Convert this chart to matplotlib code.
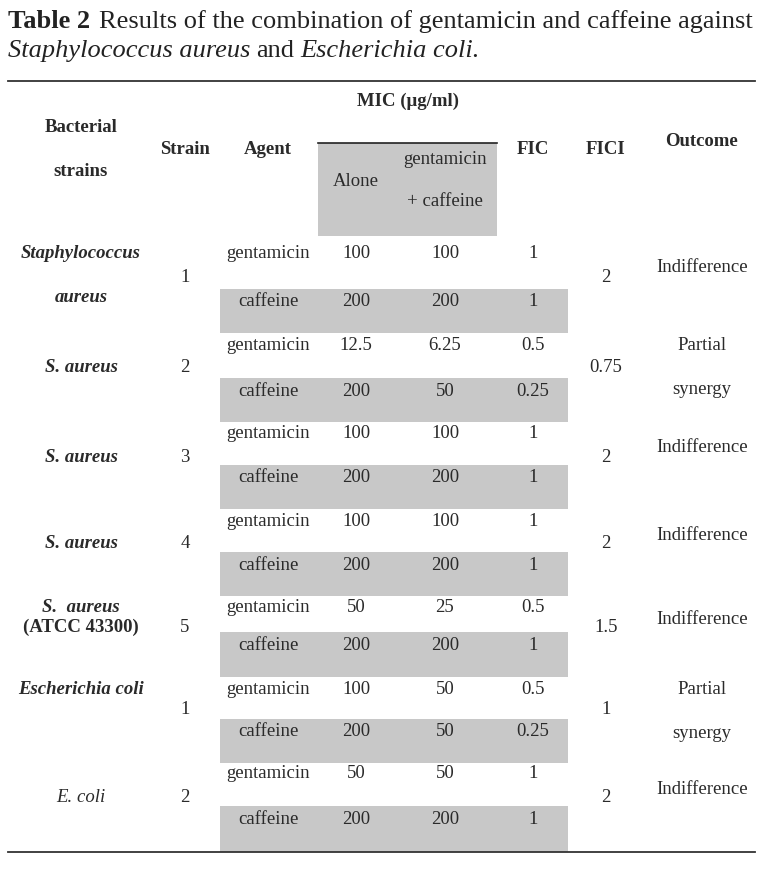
import matplotlib
matplotlib.use("Agg")
import matplotlib.pyplot as plt
from matplotlib.patches import Rectangle

# ---------------- table content ---------------- #
species = [["Staphylococcus", "aureus"], ["S. aureus"], ["S. aureus"], ["S. aureus"],
           ["S.  aureus", "(ATCC 43300)"], ["Escherichia coli"], ["E. coli"]]
strain_no = ["1", "2", "3", "4", "5", "1", "2"]
agents = ["gentamicin", "caffeine"]
mic_alone = [["100", "200"], ["12.5", "200"], ["100", "200"], ["100", "200"],
             ["50", "200"], ["100", "200"], ["50", "200"]]
mic_combo = [["100", "200"], ["6.25", "50"], ["100", "200"], ["100", "200"],
             ["25", "200"], ["50", "50"], ["50", "200"]]
fic = [["1", "1"], ["0.5", "0.25"], ["1", "1"], ["1", "1"],
       ["0.5", "1"], ["0.5", "0.25"], ["1", "1"]]
fici = ["2", "0.75", "2", "2", "1.5", "1", "2"]
outcome = [["Indifference"], ["Partial", "synergy"], ["Indifference"], ["Indifference"],
           ["Indifference"], ["Partial", "synergy"], ["Indifference"]]
caption_1 = [("Table 2", "normal", "bold"),
             ("Results of the combination of gentamicin and caffeine against", "normal", "normal")]
caption_2 = [("Staphylococcus aureus", "italic", "normal"), ("and", "normal", "normal"),
             ("Escherichia coli.", "italic", "normal")]

# ---------------- layout (pixels) ---------------- #
W, H = 783, 883
gent_y = [253, 346, 434, 521, 607, 689, 774]
band_top = [289, 378, 465, 552, 632, 719, 806]
band_bot = [333, 422, 509, 596, 677, 763, 852]
mid_y = [277, 368, 457, 543, 627, 710, 797]
species_y = [[254, 298], [368], [457], [543], [607, 627], [689], [797]]
outcome_y = [[268], [346, 390], [448], [535], [619], [689, 733], [789]]
x_sp, x_strain, x_agent, x_alone, x_combo, x_fic, x_fici, x_out = 81, 185, 268, 356, 445, 533, 606, 702
gray = "#c8c8c8"
txt = "#2a2a2a"
fam = ["Liberation Serif", "DejaVu Serif"]
fs = 13.5
cap_fs = 19

fig = plt.figure(figsize=(W / 100, H / 100), dpi=100)
ax = fig.add_axes([0, 0, 1, 1])
ax.set_xlim(0, W)
ax.set_ylim(H, 0)
ax.axis("off")
renderer = fig.canvas.get_renderer()


def caption_line(pieces, y, gap):
    x = 8
    for s, st, wt in pieces:
        t = ax.text(x, y, s, fontsize=cap_fs, family=fam, style=st, fontweight=wt,
                    va="center", color="#222222")
        bb = t.get_window_extent(renderer)
        x += bb.width + gap


caption_line(caption_1, 22, 9)
caption_line(caption_2, 51, 6)

# rules
ax.plot([8, 755], [81, 81], color="#333333", lw=1.3)
ax.plot([8, 755], [852, 852], color="#333333", lw=1.3)

# header
hd = dict(fontsize=fs, family=fam, fontweight="bold", ha="center", va="center", color=txt)
ax.add_patch(Rectangle((318, 143), 179, 93, color=gray, lw=0))
ax.plot([318, 497], [143, 143], color="#222222", lw=1.2)
ax.text(408, 101, "MIC (μg/ml)", **hd)
ax.text(x_sp, 128, "Bacterial", **hd)
ax.text(x_sp, 171, "strains", **hd)
ax.text(x_strain, 150, "Strain", **hd)
ax.text(x_agent, 150, "Agent", **hd)
ax.text(x_fic, 150, "FIC", **hd)
ax.text(x_fici, 150, "FICI", **hd)
ax.text(x_out, 142, "Outcome", **hd)
body = dict(fontsize=fs, family=fam, ha="center", va="center", color=txt)
ax.text(x_alone, 181, "Alone", **body)
ax.text(x_combo, 160, "gentamicin", **body)
ax.text(x_combo, 201, "+ caffeine", **body)

# body rows
for i in range(len(species)):
    ax.add_patch(Rectangle((220, band_top[i]), 348, band_bot[i] - band_top[i], color=gray, lw=0))
    for name, y in zip(species[i], species_y[i]):
        ital = "normal" if name.startswith("(") else "italic"
        wt = "normal" if name == "E. coli" else "bold"
        ax.text(x_sp, y, name, fontsize=fs, family=fam, ha="center", va="center",
                style=ital, fontweight=wt, color=txt)
    ax.text(x_strain, mid_y[i], strain_no[i], **body)
    ax.text(x_fici, mid_y[i], fici[i], **body)
    for word, y in zip(outcome[i], outcome_y[i]):
        ax.text(x_out, y, word, **body)
    for j, y in enumerate([gent_y[i], band_top[i] + 13]):
        ax.text(x_agent, y, agents[j], **body)
        ax.text(x_alone, y, mic_alone[i][j], **body)
        ax.text(x_combo, y, mic_combo[i][j], **body)
        ax.text(x_fic, y, fic[i][j], **body)

fig.savefig("out.png", dpi=100)
